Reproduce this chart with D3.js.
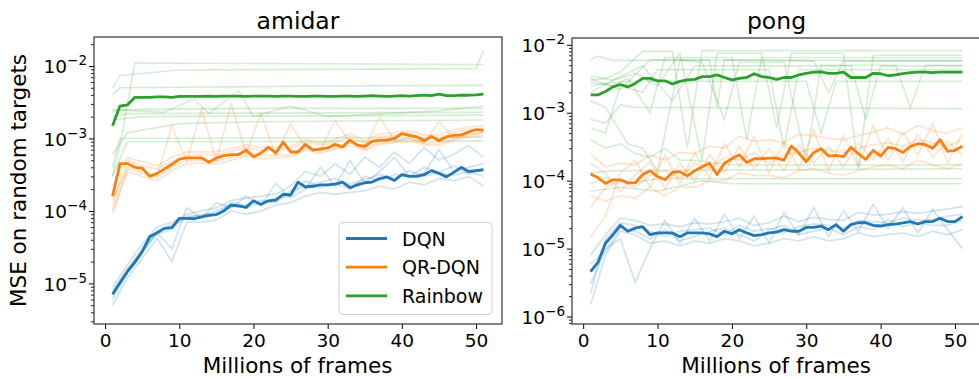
<!DOCTYPE html>
<html>
<head>
<meta charset="utf-8">
<script src="https://cdn.jsdelivr.net/npm/d3@7"></script>
<style>
  body { margin: 0; background: #fff; }
  text { font-family: "DejaVu Sans", sans-serif; fill: #000; }
</style>
</head>
<body>
<script>
// frames (millions) for the mean curves and for the individual runs
const frames = d3.range(1, 52);
const runFrames = d3.range(1, 52, 2);

const seriesNames = ['DQN', 'QR-DQN', 'Rainbow'];
const seriesColors = ['#1f77b4', '#ff7f0e', '#2ca02c'];
const xTicks = [0, 10, 20, 30, 40, 50];

// ---- amidar, mean curves ----
const amidarDqn = [7.1e-6, 1.02e-5, 1.45e-5, 1.95e-5, 2.75e-5, 4.4e-5, 5.0e-5, 5.75e-5, 5.9e-5, 7.9e-5,
  7.9e-5, 7.8e-5, 8.3e-5, 8.7e-5, 8.9e-5, 1.0e-4, 1.2e-4, 1.17e-4, 1.12e-4, 1.38e-4,
  1.23e-4, 1.38e-4, 1.41e-4, 1.7e-4, 1.66e-4, 2.5e-4, 2.14e-4, 2.19e-4, 2.29e-4, 2.29e-4,
  2.34e-4, 2.5e-4, 2.09e-4, 2.29e-4, 2.45e-4, 2.5e-4, 2.8e-4, 2.95e-4, 2.63e-4, 3.16e-4,
  3.0e-4, 3.0e-4, 3.16e-4, 3.6e-4, 3.3e-4, 2.95e-4, 3.4e-4, 4.0e-4, 3.5e-4, 3.6e-4, 3.7e-4];
const amidarQr = [1.6e-4, 4.5e-4, 4.5e-4, 4.0e-4, 3.9e-4, 3.0e-4, 3.3e-4, 3.8e-4, 4.4e-4, 5.2e-4,
  5.4e-4, 5.4e-4, 5.4e-4, 4.7e-4, 5.4e-4, 5.8e-4, 6.0e-4, 6.0e-4, 6.9e-4, 5.6e-4,
  6.3e-4, 7.6e-4, 6.3e-4, 8.9e-4, 6.5e-4, 6.5e-4, 8.3e-4, 6.9e-4, 7.2e-4, 7.4e-4,
  8.3e-4, 7.6e-4, 9.5e-4, 8.1e-4, 7.8e-4, 9.1e-4, 9.5e-4, 9.5e-4, 1.0e-3, 1.17e-3,
  1.1e-3, 1.05e-3, 9.3e-4, 1.07e-3, 9.3e-4, 1.05e-3, 1.1e-3, 1.12e-3, 1.23e-3, 1.32e-3, 1.29e-3];
const amidarRainbow = [1.5e-3, 2.8e-3, 2.9e-3, 3.7e-3, 3.7e-3, 3.7e-3, 3.75e-3, 3.75e-3, 3.7e-3, 3.8e-3,
  3.8e-3, 3.8e-3, 3.8e-3, 3.85e-3, 3.8e-3, 3.85e-3, 3.85e-3, 3.85e-3, 3.8e-3, 3.85e-3,
  3.85e-3, 3.85e-3, 3.8e-3, 3.85e-3, 3.85e-3, 3.8e-3, 3.8e-3, 3.85e-3, 3.85e-3, 3.8e-3,
  3.8e-3, 3.85e-3, 3.85e-3, 3.8e-3, 3.85e-3, 3.9e-3, 3.85e-3, 3.8e-3, 3.85e-3, 3.9e-3,
  3.85e-3, 3.9e-3, 3.95e-3, 3.9e-3, 4.1e-3, 3.9e-3, 3.9e-3, 3.95e-3, 3.95e-3, 4.0e-3, 4.1e-3];

// ---- amidar, individual runs (every 2M frames) ----
const amidarDqnRuns = [
  [9e-6, 1.8e-5, 3.5e-5, 6e-5, 7e-5, 9e-5, 1.0e-4, 1.1e-4, 1.4e-4, 1.5e-4, 1.6e-4, 1.7e-4, 2.2e-4, 3.5e-4, 3.0e-4, 4.5e-4, 3.2e-4, 5.5e-4, 4.0e-4, 6.5e-4, 4.5e-4, 7.5e-4, 5.0e-4, 6.0e-4, 8.0e-4, 5.5e-4],
  [5e-6, 1.2e-5, 2.2e-5, 4.2e-5, 2.0e-5, 7e-5, 7e-5, 7.5e-5, 1.0e-4, 9e-5, 1.0e-4, 1.2e-4, 1.3e-4, 1.6e-4, 1.8e-4, 1.7e-4, 1.8e-4, 1.9e-4, 2.2e-4, 2.0e-4, 2.5e-4, 2.3e-4, 2.8e-4, 2.6e-4, 3.0e-4, 2.2e-4],
  [7e-6, 1.5e-5, 3e-5, 5e-5, 3e-5, 1.1e-4, 8e-5, 1.3e-4, 1.1e-4, 1.6e-4, 1.2e-4, 2.4e-4, 1.5e-4, 2.0e-4, 4.0e-4, 2.2e-4, 5.0e-4, 2.4e-4, 3.5e-4, 5.5e-4, 3.0e-4, 3.3e-4, 7.0e-4, 3.5e-4, 4.0e-4, 4.5e-4],
  [6e-6, 1.4e-5, 2.6e-5, 5.2e-5, 6.5e-5, 8e-5, 9e-5, 9e-5, 1.3e-4, 1.2e-4, 1.4e-4, 1.3e-4, 1.9e-4, 2.2e-4, 2.5e-4, 2.8e-4, 2.3e-4, 2.7e-4, 3.2e-4, 2.8e-4, 3.6e-4, 3.0e-4, 3.4e-4, 4.2e-4, 3.2e-4, 3.8e-4],
  [8e-6, 1.6e-5, 2.8e-5, 4.8e-5, 5.5e-5, 8.5e-5, 8.5e-5, 1.0e-4, 1.25e-4, 1.1e-4, 1.3e-4, 1.5e-4, 1.6e-4, 2.6e-4, 2.1e-4, 2.4e-4, 2.0e-4, 3.0e-4, 2.6e-4, 3.2e-4, 3.0e-4, 4.0e-4, 3.3e-4, 3.1e-4, 3.5e-4, 3.0e-4]
];
const amidarQrRuns = [
  [1.0e-4, 3.5e-4, 3.0e-4, 2.6e-4, 3.6e-4, 4.5e-4, 4.6e-4, 4.4e-4, 5.0e-4, 5.8e-4, 5.2e-4, 5.4e-4, 5.6e-4, 7.0e-4, 6.2e-4, 7.2e-4, 8.0e-4, 6.8e-4, 8.2e-4, 8.8e-4, 9.2e-4, 8.2e-4, 8.0e-4, 9.5e-4, 1.05e-3, 1.1e-3],
  [2.2e-4, 5.5e-4, 4.8e-4, 4.2e-4, 5.5e-4, 6.5e-4, 6.5e-4, 6.6e-4, 7.2e-4, 8.2e-4, 7.5e-4, 7.6e-4, 7.8e-4, 9.8e-4, 8.6e-4, 9.8e-4, 1.15e-3, 9.4e-4, 1.15e-3, 1.2e-3, 1.3e-3, 1.1e-3, 1.12e-3, 1.3e-3, 1.45e-3, 1.5e-3],
  [1.4e-4, 4.0e-4, 3.6e-4, 3.0e-4, 1.5e-3, 4.8e-4, 2.5e-3, 5.0e-4, 3.0e-3, 6.2e-4, 2.2e-3, 5.8e-4, 1.6e-3, 7.6e-4, 6.8e-4, 1.8e-3, 8.8e-4, 7.2e-4, 2.0e-3, 9.4e-4, 1.0e-3, 8.6e-4, 1.7e-3, 1.0e-3, 1.1e-3, 1.2e-3],
  [1.2e-4, 5.0e-4, 4.2e-4, 3.8e-4, 4.8e-4, 5.8e-4, 6.0e-4, 6.0e-4, 6.6e-4, 7.5e-4, 6.8e-4, 7.0e-4, 7.2e-4, 9.0e-4, 8.0e-4, 9.0e-4, 1.05e-3, 8.6e-4, 1.05e-3, 1.1e-3, 1.2e-3, 1.0e-3, 1.0e-3, 1.2e-3, 1.35e-3, 1.4e-3],
  [9e-5, 3.8e-4, 3.3e-4, 2.9e-4, 4.0e-4, 5.0e-4, 5.0e-4, 4.9e-4, 5.5e-4, 6.3e-4, 5.8e-4, 5.9e-4, 6.0e-4, 7.6e-4, 6.6e-4, 7.6e-4, 8.8e-4, 7.2e-4, 8.8e-4, 9.2e-4, 1.0e-3, 8.6e-4, 8.5e-4, 1.0e-3, 1.15e-3, 1.2e-3]
];
// rainbow runs are mostly flat, so only the points where they change: [frame, value]
const amidarRainbowRuns = [
  [[1, 3e-4], [2, 8e-4], [4, 1.1e-2], [20, 1.08e-2], [51, 1.05e-2]],
  [[1, 4.9e-3], [2, 7.4e-3], [10, 8.8e-3], [50, 9.2e-3], [51, 1.65e-2]],
  [[1, 4.0e-3], [2, 5.0e-3], [30, 5.3e-3], [51, 5.4e-3]],
  [[1, 2.4e-3], [3, 2.5e-3], [20, 2.6e-3], [51, 2.6e-3]],
  [[1, 2.0e-3], [3, 2.2e-3], [51, 2.3e-3]],
  [[1, 1.8e-3], [5, 2.0e-3], [51, 2.1e-3]],
  [[1, 6e-4], [3, 1.2e-3], [10, 1.6e-3], [20, 1.7e-3], [51, 1.8e-3]],
  [[1, 4e-4], [2, 1.0e-3], [51, 1.04e-3]],
  [[1, 3e-4], [3, 9e-4], [51, 9.2e-4]],
  [[1, 2.5e-3], [8, 2.3e-3], [12, 3.5e-3], [14, 2.2e-3], [18, 4.6e-3], [20, 2.0e-3], [25, 2.8e-3], [30, 2.0e-3], [45, 2.4e-3], [51, 2.8e-3]]
];

// ---- pong, mean curves ----
const pongDqn = [4.6e-6, 6.3e-6, 1.2e-5, 1.6e-5, 2.2e-5, 1.8e-5, 2.0e-5, 2.1e-5, 1.6e-5, 1.7e-5,
  1.7e-5, 1.7e-5, 1.5e-5, 1.7e-5, 1.7e-5, 1.7e-5, 1.65e-5, 1.5e-5, 1.8e-5, 1.65e-5,
  1.9e-5, 1.7e-5, 1.55e-5, 1.6e-5, 1.7e-5, 1.75e-5, 1.9e-5, 1.8e-5, 1.8e-5, 2.05e-5,
  2.05e-5, 2.15e-5, 1.9e-5, 2.25e-5, 1.8e-5, 2.25e-5, 2.4e-5, 2.4e-5, 2.2e-5, 2.15e-5,
  2.25e-5, 2.3e-5, 2.4e-5, 2.5e-5, 2.3e-5, 2.5e-5, 2.5e-5, 2.8e-5, 2.5e-5, 2.5e-5, 2.95e-5];
const pongQr = [1.25e-4, 1.1e-4, 9.1e-5, 1.03e-4, 1.03e-4, 9.3e-5, 9.3e-5, 1.23e-4, 1.4e-4, 1.15e-4,
  1.03e-4, 1.32e-4, 1.36e-4, 1.17e-4, 1.4e-4, 1.6e-4, 1.8e-4, 1.23e-4, 1.8e-4, 2.1e-4,
  2.4e-4, 1.85e-4, 2.1e-4, 2.1e-4, 2.15e-4, 2.15e-4, 2.0e-4, 3.25e-4, 2.55e-4, 1.9e-4,
  2.6e-4, 2.95e-4, 2.3e-4, 2.35e-4, 2.25e-4, 3.1e-4, 2.5e-4, 2.05e-4, 2.8e-4, 2.3e-4,
  3.1e-4, 2.95e-4, 2.6e-4, 3.2e-4, 3.5e-4, 3.4e-4, 3.0e-4, 4.0e-4, 2.7e-4, 2.8e-4, 3.2e-4];
const pongRainbow = [1.83e-3, 1.83e-3, 2.05e-3, 2.4e-3, 2.6e-3, 2.4e-3, 2.7e-3, 3.2e-3, 3.2e-3, 2.95e-3,
  2.95e-3, 2.65e-3, 2.9e-3, 3.05e-3, 3.1e-3, 3.4e-3, 3.4e-3, 3.6e-3, 3.3e-3, 3.05e-3,
  3.2e-3, 3.3e-3, 3.75e-3, 3.4e-3, 3.3e-3, 3.1e-3, 3.3e-3, 3.3e-3, 3.6e-3, 3.8e-3,
  3.95e-3, 4.0e-3, 3.8e-3, 3.8e-3, 3.95e-3, 3.3e-3, 3.3e-3, 3.3e-3, 3.8e-3, 3.75e-3,
  3.5e-3, 3.6e-3, 3.75e-3, 3.9e-3, 3.95e-3, 3.95e-3, 3.9e-3, 3.95e-3, 3.95e-3, 3.95e-3, 3.95e-3];

// ---- pong, individual runs ----
const pongDqnRuns = [
  [1.5e-6, 8e-6, 1.8e-5, 1.6e-5, 1.2e-5, 1.3e-5, 1.1e-5, 1.3e-5, 1.2e-5, 1.4e-5, 1.3e-5, 1.1e-5, 1.2e-5, 1.4e-5, 1.3e-5, 1.5e-5, 1.3e-5, 1.4e-5, 1.7e-5, 1.5e-5, 1.6e-5, 1.7e-5, 1.5e-5, 1.8e-5, 1.6e-5, 1.9e-5],
  [8e-6, 1.6e-5, 2.8e-5, 2.6e-5, 2.2e-5, 2.3e-5, 2.1e-5, 2.4e-5, 2.3e-5, 2.5e-5, 2.8e-5, 2.2e-5, 2.4e-5, 3.0e-5, 2.5e-5, 2.9e-5, 2.7e-5, 2.6e-5, 3.4e-5, 3.1e-5, 3.2e-5, 3.5e-5, 3.3e-5, 3.6e-5, 3.8e-5, 4.2e-5],
  [3e-6, 1.0e-5, 1.4e-5, 3.2e-6, 1.0e-5, 2.6e-5, 1.2e-5, 2.8e-5, 1.3e-5, 3.2e-5, 1.4e-5, 3.0e-5, 1.2e-5, 3.4e-5, 1.6e-5, 4.0e-5, 1.5e-5, 3.6e-5, 1.8e-5, 4.5e-5, 2.0e-5, 4.0e-5, 1.7e-5, 3.8e-5, 1.9e-5, 1.0e-5],
  [2.2e-6, 1.4e-5, 2.4e-5, 2.2e-5, 1.8e-5, 1.5e-5, 1.8e-5, 1.9e-5, 2.0e-5, 1.6e-5, 2.2e-5, 1.8e-5, 2.0e-5, 1.7e-5, 2.1e-5, 2.3e-5, 2.2e-5, 2.0e-5, 2.6e-5, 2.5e-5, 2.4e-5, 2.8e-5, 2.6e-5, 2.7e-5, 3.0e-5, 3.2e-5],
  [6e-6, 9e-6, 2.0e-5, 1.8e-5, 1.4e-5, 1.9e-5, 1.3e-5, 1.5e-5, 1.8e-5, 2.0e-5, 1.6e-5, 1.3e-5, 1.9e-5, 2.2e-5, 1.6e-5, 1.8e-5, 2.0e-5, 1.6e-5, 2.1e-5, 1.9e-5, 2.7e-5, 2.1e-5, 2.4e-5, 2.2e-5, 2.2e-5, 2.6e-5]
];
const pongQrRuns = [
  [2.5e-4, 1.6e-4, 1.8e-4, 1.7e-4, 2.4e-4, 2.0e-4, 2.6e-4, 2.5e-4, 3.2e-4, 3.0e-4, 4.5e-4, 3.8e-4, 4.0e-4, 3.6e-4, 4.8e-4, 4.6e-4, 4.2e-4, 4.0e-4, 4.6e-4, 5.2e-4, 6.0e-4, 4.8e-4, 6.5e-4, 5.5e-4, 5.0e-4, 6.0e-4],
  [6e-5, 5e-5, 6e-5, 5.5e-5, 8e-5, 6e-5, 8e-5, 8e-5, 1.0e-4, 1.0e-4, 1.3e-4, 1.2e-4, 1.2e-4, 1.1e-4, 1.4e-4, 1.5e-4, 1.3e-4, 1.2e-4, 1.4e-4, 1.6e-4, 1.7e-4, 1.5e-4, 2.0e-4, 1.7e-4, 1.5e-4, 1.8e-4],
  [1.5e-5, 3e-5, 1.3e-4, 2.0e-4, 8e-5, 2.4e-4, 9e-5, 2.6e-4, 1.1e-4, 3.5e-4, 1.6e-4, 4.5e-4, 1.3e-4, 3.8e-4, 1.5e-4, 5.5e-4, 1.4e-4, 4.6e-4, 1.6e-4, 6.5e-4, 2.0e-4, 5.2e-4, 2.4e-4, 7.0e-4, 1.8e-4, 5.0e-4],
  [1.8e-4, 1.3e-4, 7e-5, 1.2e-4, 1.9e-4, 7.5e-5, 1.8e-4, 1.0e-4, 2.4e-4, 1.3e-4, 3.2e-4, 1.5e-4, 3.0e-4, 1.4e-4, 3.4e-4, 1.8e-4, 3.2e-4, 1.6e-4, 3.6e-4, 2.0e-4, 4.2e-4, 1.9e-4, 4.8e-4, 2.2e-4, 3.8e-4, 2.4e-4],
  [4e-5, 8e-5, 1.0e-4, 8e-5, 1.2e-4, 1.4e-4, 1.1e-4, 1.8e-4, 1.5e-4, 2.2e-4, 2.0e-4, 2.6e-4, 1.8e-4, 2.4e-4, 2.6e-4, 3.0e-4, 2.8e-4, 2.6e-4, 3.0e-4, 3.4e-4, 3.6e-4, 3.2e-4, 4.0e-4, 3.6e-4, 3.2e-4, 4.0e-4]
];
const pongRainbowRuns = [
  [[1, 6.0e-3], [2, 6.8e-3], [4, 5.9e-3], [51, 5.9e-3]],
  [[1, 3.0e-3], [3, 3.2e-3], [5, 4.0e-3], [8, 8.0e-3], [12, 8.0e-3], [14, 3e-4], [16, 8.2e-3], [51, 8.2e-3]],
  [[1, 2.8e-3], [4, 2.5e-3], [6, 3.2e-3], [9, 1.0e-3], [11, 6.5e-3], [20, 6.5e-3], [22, 4e-4], [24, 6.5e-3], [51, 6.5e-3]],
  [[1, 8e-4], [3, 7e-4], [5, 1.3e-3], [7, 1.2e-3], [51, 1.15e-3]],
  [[1, 6e-4], [3, 5e-4], [5, 2.5e-3], [8, 2.0e-3], [10, 4.3e-3], [25, 4.3e-3], [27, 3e-4], [29, 4.3e-3], [51, 4.3e-3]],
  [[1, 4e-4], [3, 3.0e-4], [5, 3.5e-4], [7, 2.5e-4], [9, 2.2e-4], [11, 3e-4], [13, 2.0e-4], [15, 2.0e-4], [20, 1.7e-4], [51, 1.7e-4]],
  [[1, 1.3e-4], [4, 1.4e-4], [51, 1.5e-4]],
  [[1, 9e-5], [3, 1.1e-4], [6, 9e-5], [10, 1.07e-4], [51, 1.07e-4]],
  [[1, 7e-5], [5, 8e-5], [10, 7e-5], [16, 1.0e-4], [20, 9e-5], [51, 9e-5]],
  [[1, 2.5e-3], [3, 2.7e-3], [6, 2.9e-3], [30, 2.9e-3], [32, 5e-4], [34, 2.9e-3], [51, 2.9e-3]],
  [[1, 2.0e-3], [4, 3.0e-3], [8, 4.9e-3], [12, 1.5e-3], [15, 4.9e-3], [36, 4.9e-3], [38, 8e-4], [40, 4.9e-3], [51, 4.9e-3]],
  [[1, 3.2e-3], [5, 2.2e-3], [9, 6.0e-3], [17, 6.0e-3], [18, 1.2e-3], [19, 6.0e-3], [31, 5.8e-3], [33, 2.0e-3], [35, 5.8e-3], [51, 5.8e-3]],
  [[1, 3.5e-3], [4, 3.0e-3], [7, 3.8e-3], [10, 2.5e-3], [13, 7.5e-3], [16, 2.0e-4], [18, 7.5e-3], [24, 7.5e-3], [26, 6e-4], [28, 7.5e-3], [35, 7.5e-3], [37, 1.5e-4], [39, 7.0e-3], [51, 7.0e-3]],
  [[1, 1.5e-3], [3, 1.2e-3], [6, 3.5e-4], [8, 3.0e-4], [10, 1.4e-4], [13, 6.0e-3], [16, 5.5e-3], [19, 8e-4], [21, 5.5e-3], [27, 5.5e-3], [30, 2e-4], [32, 5.0e-3], [42, 5.0e-3], [44, 1.2e-3], [46, 5.0e-3], [51, 5.0e-3]]
];

const width = 979, height = 379;
const svg = d3.select('body').append('svg')
  .attr('width', width)
  .attr('height', height);

const panels = [
  {
    title: 'amidar', left: 94, right: 502, top: 37, bottom: 324,
    yDomain: [Math.pow(10, -5.56), Math.pow(10, -1.6)], decades: [-5, -4, -3, -2],
    means: [amidarDqn, amidarQr, amidarRainbow],
    runs: [amidarDqnRuns, amidarQrRuns], sparseRuns: amidarRainbowRuns,
    ylabel: true, legend: true
  },
  {
    title: 'pong', left: 572, right: 981, top: 38, bottom: 324,
    yDomain: [Math.pow(10, -6.11), Math.pow(10, -1.9)], decades: [-6, -5, -4, -3, -2],
    means: [pongDqn, pongQr, pongRainbow],
    runs: [pongDqnRuns, pongQrRuns], sparseRuns: pongRainbowRuns,
    ylabel: false, legend: false
  }
];

panels.forEach((p, pi) => {
  const x = d3.scaleLinear().domain([-1.5, 53.5]).range([p.left, p.right]);
  const y = d3.scaleLog().domain(p.yDomain).range([p.bottom, p.top]);

  const clipId = 'clip' + pi;
  svg.append('clipPath').attr('id', clipId)
    .append('rect')
    .attr('x', p.left).attr('y', p.top)
    .attr('width', p.right - p.left).attr('height', p.bottom - p.top);

  const plot = svg.append('g').attr('clip-path', 'url(#' + clipId + ')');
  const line = d3.line().x(d => x(d[0])).y(d => y(d[1]));

  // faint individual runs
  p.runs.forEach((runs, si) => {
    runs.forEach(r => {
      plot.append('path')
        .attr('d', line(r.map((v, i) => [runFrames[i], v])))
        .attr('fill', 'none')
        .attr('stroke', seriesColors[si])
        .attr('stroke-opacity', 0.2)
        .attr('stroke-width', 1.8);
    });
  });
  p.sparseRuns.forEach(r => {
    plot.append('path')
      .attr('d', line(r))
      .attr('fill', 'none')
      .attr('stroke', seriesColors[2])
      .attr('stroke-opacity', 0.2)
      .attr('stroke-width', 1.6);
  });

  // mean curves
  p.means.forEach((m, si) => {
    plot.append('path')
      .attr('d', line(m.map((v, i) => [frames[i], v])))
      .attr('fill', 'none')
      .attr('stroke', seriesColors[si])
      .attr('stroke-width', 2.8)
      .attr('stroke-linejoin', 'round');
  });

  // axes
  const xAxis = svg.append('g')
    .attr('transform', 'translate(0,' + p.bottom + ')')
    .call(d3.axisBottom(x).tickValues(xTicks).tickSize(5).tickPadding(5));
  xAxis.selectAll('text').attr('font-size', 18.5).attr('font-family', 'DejaVu Sans');

  const majors = p.decades.map(e => Math.pow(10, e));
  const minors = [];
  const lo = Math.floor(Math.log10(p.yDomain[0])), hi = Math.ceil(Math.log10(p.yDomain[1]));
  for (let e = lo; e < hi; e++) {
    for (let k = 2; k <= 9; k++) {
      const v = k * Math.pow(10, e);
      if (v >= p.yDomain[0] && v <= p.yDomain[1]) minors.push(v);
    }
  }
  svg.append('g')
    .attr('transform', 'translate(' + p.left + ',0)')
    .call(d3.axisLeft(y).tickValues(minors).tickSize(3).tickFormat(''))
    .call(g => g.select('.domain').remove())
    .selectAll('line').attr('stroke', '#222');

  const yAxis = svg.append('g')
    .attr('transform', 'translate(' + p.left + ',0)')
    .call(d3.axisLeft(y).tickValues(majors).tickSize(5).tickPadding(5).tickFormat(''));
  yAxis.select('.domain').remove();
  yAxis.selectAll('.tick').each(function (d) {
    const t = d3.select(this).append('text')
      .attr('x', -7).attr('y', 7)
      .attr('text-anchor', 'end')
      .attr('font-size', 18.5);
    t.append('tspan').text('10');
    t.append('tspan').attr('dy', -8).attr('font-size', 13.5)
      .text('\u2212' + Math.abs(Math.round(Math.log10(d))));
  });

  // frame
  svg.append('rect')
    .attr('x', p.left).attr('y', p.top)
    .attr('width', p.right - p.left).attr('height', p.bottom - p.top)
    .attr('fill', 'none').attr('stroke', '#333').attr('stroke-width', 1.2);
  xAxis.select('.domain').remove();

  // texts
  svg.append('text')
    .attr('x', (p.left + p.right) / 2)
    .attr('y', 29)
    .attr('text-anchor', 'middle')
    .attr('font-size', 23.5)
    .text(p.title);
  svg.append('text')
    .attr('x', (x(0) + x(50)) / 2 + 7)
    .attr('y', 373)
    .attr('text-anchor', 'middle')
    .attr('font-size', 21.5)
    .text('Millions of frames');

  if (p.ylabel) {
    svg.append('text')
      .attr('transform', 'translate(26,' + ((p.top + p.bottom) / 2) + ') rotate(-90)')
      .attr('text-anchor', 'middle')
      .attr('font-size', 21.5)
      .text('MSE on random targets');
  }

  if (p.legend) {
    const lg = svg.append('g').attr('transform', 'translate(339,222.5)');
    lg.append('rect')
      .attr('width', 153).attr('height', 92).attr('rx', 4)
      .attr('fill', '#fff').attr('fill-opacity', 0.85)
      .attr('stroke', '#d0d0d0').attr('stroke-width', 1);
    seriesNames.forEach((name, i) => {
      const yy = 16 + i * 28.7;
      lg.append('line')
        .attr('x1', 7).attr('x2', 48).attr('y1', yy).attr('y2', yy)
        .attr('stroke', seriesColors[i]).attr('stroke-width', 2.8);
      lg.append('text')
        .attr('x', 63).attr('y', yy + 7)
        .attr('font-size', 19)
        .text(name);
    });
  }
});
</script>
</body>
</html>
